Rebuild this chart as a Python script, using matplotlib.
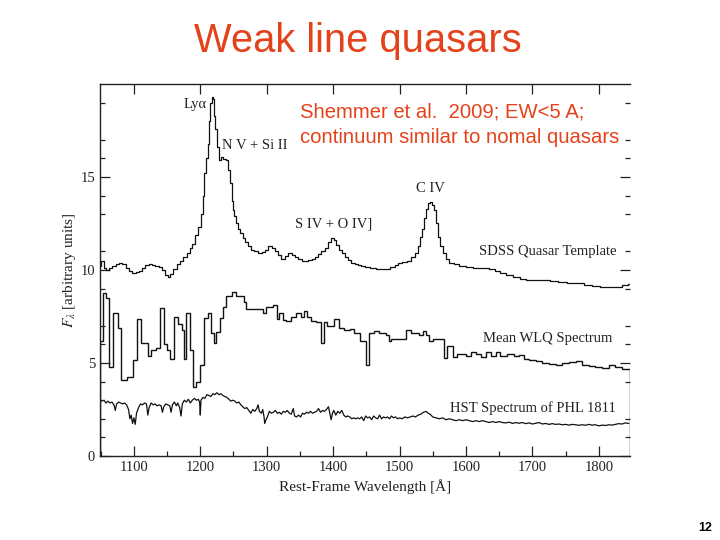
import matplotlib
matplotlib.use("Agg")
import matplotlib.pyplot as plt
from matplotlib.ticker import FixedLocator, MultipleLocator
import numpy as np

# ---- SDSS quasar template (wavelength, flux) ----
sdss_wave = [1049, 1053, 1056, 1060, 1065, 1070, 1075, 1080, 1085, 1090, 1095, 1100, 1105, 1110,
             1115, 1120, 1125, 1130, 1135, 1140, 1145, 1150, 1153, 1157, 1162, 1167, 1172, 1177,
             1182, 1186, 1190, 1195, 1199, 1203, 1205, 1207, 1210, 1212, 1214, 1216, 1218, 1220,
             1221, 1223, 1226, 1229, 1232, 1236, 1240, 1243, 1246, 1248, 1250, 1253, 1256, 1259,
             1262, 1266, 1270, 1275, 1279, 1284, 1290, 1295, 1300, 1305, 1310, 1315, 1320, 1324,
             1330, 1335, 1340, 1345, 1350, 1355, 1360, 1365, 1370, 1375, 1380, 1385, 1390, 1395,
             1399, 1403, 1407, 1411, 1415, 1420, 1425, 1430, 1435, 1440, 1445, 1450, 1460, 1470,
             1480, 1490, 1495, 1500, 1508, 1515, 1520, 1526, 1530, 1533, 1536, 1539, 1542, 1545,
             1548, 1551, 1554, 1557, 1560, 1563, 1567, 1572, 1578, 1585, 1595, 1605, 1616, 1628,
             1640, 1648, 1655, 1665, 1676, 1686, 1696, 1710, 1721, 1733, 1745, 1758, 1771, 1784,
             1796, 1808, 1820, 1830, 1841, 1847]
sdss_flux = [10.2, 10.5, 10.1, 10.0, 10.1, 10.2, 10.3, 10.4, 10.3, 10.1, 9.95, 9.85, 9.9, 9.95,
             10.1, 10.25, 10.3, 10.25, 10.2, 10.15, 10.0, 9.75, 9.6, 9.8, 10.05, 10.3, 10.5, 10.7,
             10.9, 11.2, 11.4, 11.9, 12.3, 13.0, 14.0, 15.2, 16.0, 16.8, 18.0, 19.0, 19.3, 19.2,
             18.3, 17.6, 16.6, 15.9, 16.05, 15.95, 15.9, 15.4, 14.7, 13.7, 13.2, 12.9, 12.5, 12.2,
             12.0, 11.7, 11.5, 11.3, 11.1, 11.0, 10.9, 10.95, 11.1, 11.3, 11.2, 11.0, 10.8, 10.6,
             10.75, 10.9, 10.8, 10.7, 10.6, 10.5, 10.5, 10.55, 10.6, 10.7, 10.85, 11.0, 11.2, 11.5,
             11.7, 11.6, 11.35, 11.1, 10.9, 10.7, 10.55, 10.4, 10.3, 10.25, 10.2, 10.15, 10.1, 10.05,
             10.05, 10.15, 10.25, 10.4, 10.45, 10.5, 10.7, 10.9, 11.3, 11.8, 12.2, 12.8, 13.3, 13.6,
             13.65, 13.5, 13.2, 12.5, 11.8, 11.3, 10.9, 10.6, 10.4, 10.3, 10.2, 10.15, 10.1, 10.1,
             10.05, 9.95, 9.85, 9.75, 9.6, 9.5, 9.45, 9.45, 9.45, 9.4, 9.35, 9.3, 9.3, 9.2,
             9.15, 9.1, 9.1, 9.1, 9.2, 9.25]

# ---- Mean WLQ spectrum (bin edges, binned flux) ----
wlq_edges = [1049, 1053, 1058, 1063, 1069, 1076, 1081, 1089, 1098, 1105, 1111, 1121, 1126, 1134,
             1140, 1145, 1150, 1154, 1161, 1167, 1172, 1175, 1179, 1184, 1189, 1194, 1199, 1205,
             1211, 1216, 1220, 1224, 1229, 1234, 1239, 1244, 1248, 1254, 1266, 1269, 1294, 1299,
             1309, 1316, 1319, 1324, 1329, 1336, 1344, 1351, 1356, 1361, 1366, 1374, 1381, 1386,
             1391, 1396, 1401, 1409, 1417, 1425, 1432, 1440, 1450, 1454, 1462, 1469, 1480, 1484,
             1487, 1510, 1517, 1530, 1535, 1540, 1545, 1550, 1567, 1572, 1580, 1587, 1600, 1607,
             1615, 1622, 1630, 1637, 1645, 1652, 1662, 1672, 1680, 1687, 1695, 1705, 1715, 1725,
             1735, 1745, 1755, 1765, 1775, 1785, 1795, 1805, 1815, 1825, 1835, 1847]
wlq_flux = [6.2, 8.75, 8.5, 4.8, 7.7, 6.9, 4.1, 4.25, 5.15, 7.35, 6.1, 5.4, 5.7,
            5.8, 7.95, 6.0, 5.7, 5.2, 7.5, 7.1, 6.8, 5.2, 7.7, 5.7, 3.7, 4.0, 4.9,
            7.4, 7.7, 6.6, 6.1, 6.65, 7.4, 8.0, 8.6, 8.6, 8.8, 8.6, 8.3, 7.9, 7.7,
            8.0, 8.1, 7.35, 7.7, 7.3, 7.25, 7.5, 7.7, 7.5, 7.8, 7.5, 7.25, 7.2, 6.1,
            7.2, 7.0, 7.0, 7.35, 6.9, 6.75, 6.85, 6.6, 6.2, 4.9, 6.6, 6.7, 6.6, 6.5,
            6.2, 6.3, 6.8, 6.6, 6.5, 6.7, 6.5, 6.2, 6.3, 5.25, 5.9, 5.3, 5.5, 5.4,
            5.6, 5.5, 5.3, 5.6, 5.4, 5.6, 5.4, 5.5, 5.35, 5.45, 5.2, 5.15, 5.1, 5.0,
            4.95, 4.9, 5.0, 5.05, 5.1, 4.9, 4.85, 4.8, 4.75, 4.9, 4.8, 4.7]

# ---- HST spectrum of PHL 1811 ----
hst_wave = [1049, 1052, 1055, 1058, 1061, 1064, 1067, 1070, 1072, 1074, 1077, 1080, 1083, 1086,
            1089, 1092, 1094, 1096, 1098, 1100, 1102, 1104, 1107, 1110, 1113, 1116, 1119, 1121,
            1123, 1126, 1129, 1132, 1135, 1138, 1141, 1143, 1145, 1148, 1151, 1154, 1156, 1158,
            1161, 1164, 1166, 1169, 1171, 1173, 1176, 1179, 1182, 1185, 1188, 1191, 1194, 1197,
            1199, 1200, 1201, 1204, 1207, 1210, 1213, 1216, 1219, 1222, 1225, 1228, 1231, 1234,
            1237, 1240, 1243, 1246, 1249, 1252, 1255, 1258, 1261, 1264, 1267, 1270, 1273, 1276,
            1279, 1282, 1285, 1287, 1289, 1292, 1294, 1296, 1297, 1299, 1301, 1304, 1307, 1310,
            1313, 1316, 1319, 1322, 1325, 1328, 1331, 1334, 1337, 1340, 1342, 1345, 1348, 1351,
            1354, 1357, 1360, 1363, 1366, 1369, 1372, 1375, 1378, 1381, 1384, 1387, 1390, 1393,
            1395, 1397, 1399, 1401, 1404, 1407, 1410, 1413, 1416, 1419, 1422, 1425, 1428, 1431,
            1434, 1437, 1440, 1443, 1446, 1449, 1452, 1455, 1458, 1461, 1464, 1467, 1470, 1473,
            1476, 1479, 1482, 1485, 1488, 1491, 1494, 1497, 1500, 1504, 1508, 1512, 1516, 1520,
            1524, 1528, 1532, 1536, 1540, 1543, 1546, 1550, 1555, 1560, 1565, 1570, 1575, 1580,
            1585, 1590, 1595, 1600, 1605, 1610, 1615, 1620, 1625, 1630, 1635, 1640, 1645, 1650,
            1655, 1660, 1665, 1670, 1675, 1680, 1685, 1690, 1695, 1700, 1705, 1710, 1715, 1720,
            1725, 1730, 1735, 1740, 1745, 1750, 1755, 1760, 1765, 1770, 1775, 1780, 1785, 1790,
            1795, 1800, 1805, 1810, 1815, 1820, 1825, 1830, 1835, 1840, 1845]
hst_flux = [3.05, 2.95, 3.0, 2.85, 2.95, 2.85, 2.9, 2.75, 2.45, 2.8, 2.9, 2.85, 2.8, 2.85,
            2.75, 2.5, 2.0, 2.2, 1.75, 2.05, 1.7, 2.3, 2.6, 2.8, 2.75, 2.85, 2.8, 2.2,
            2.6, 2.85, 2.75, 2.8, 2.7, 2.75, 2.7, 2.35, 2.65, 2.8, 2.75, 2.7, 2.35, 2.75,
            2.9, 2.7, 2.85, 2.6, 2.15, 2.8, 3.0, 2.9, 3.05, 2.85, 3.0, 3.1, 3.0, 3.05,
            2.9, 2.2, 3.0, 3.15, 3.1, 3.3, 3.25, 3.2, 3.35, 3.3, 3.4, 3.3, 3.35, 3.25,
            3.2, 3.15, 3.05, 2.95, 3.0, 2.95, 2.85, 2.9, 2.75, 2.65, 2.55, 2.6, 2.45, 2.3,
            2.5, 2.4, 2.55, 2.75, 2.4, 2.3, 2.5, 2.1, 1.75, 1.95, 2.1, 2.4, 2.3, 2.35,
            2.45, 2.3, 2.35, 2.25, 2.4, 2.35, 2.45, 2.3, 2.25, 2.55, 2.15, 2.1, 2.2, 2.1,
            2.3, 2.25, 2.35, 2.3, 2.4, 2.3, 2.35, 2.4, 2.55, 2.35, 2.45, 2.4, 2.5, 2.65,
            2.3, 1.95, 2.3, 2.45, 2.2, 2.4, 2.3, 2.45, 2.2, 2.1, 2.15, 2.1, 2.0, 2.05,
            2.0, 2.05, 2.0, 2.1, 1.9, 2.15, 2.05, 2.1, 1.95, 2.15, 2.05, 2.0, 2.2, 2.0,
            2.1, 2.05, 2.1, 2.0, 2.15, 2.05, 2.1, 2.0, 2.05, 2.0, 2.1, 2.05, 2.1, 2.15,
            2.1, 2.2, 2.25, 2.35, 2.4, 2.3, 2.25, 2.1, 2.05, 2.0, 2.05, 1.95, 2.0, 1.95,
            1.9, 1.95, 1.9, 1.95, 1.9, 1.85, 1.9, 1.85, 1.9, 1.85, 1.8, 1.85, 1.8, 1.85,
            1.8, 1.78, 1.82, 1.75, 1.8, 1.76, 1.8, 1.74, 1.78, 1.72, 1.76, 1.8, 1.72, 1.75,
            1.7, 1.74, 1.7, 1.72, 1.68, 1.7, 1.66, 1.7, 1.68, 1.65, 1.68, 1.65, 1.7, 1.66,
            1.68, 1.62, 1.66, 1.64, 1.68, 1.66, 1.7, 1.74, 1.72, 1.78, 1.75]

x_major = [1100, 1200, 1300, 1400, 1500, 1600, 1700, 1800]
y_major = [0, 5, 10, 15]
y_minor = [1, 2, 4, 6, 7, 9, 11, 13, 14, 16, 17, 19]

labels = [
    ("Ly\u03b1", 1193, 18.9, "center"),
    ("N V + Si II", 1232, 16.7, "left"),
    ("S IV + O IV]", 1342, 12.5, "left"),
    ("C IV", 1547, 14.4, "center"),
    ("SDSS Quasar Template", 1826, 11.0, "right"),
    ("Mean WLQ Spectrum", 1820, 6.3, "right"),
    ("HST Spectrum of PHL 1811", 1826, 2.6, "right"),
]

serif = ["Liberation Serif", "DejaVu Serif"]
sans = ["Liberation Sans", "DejaVu Sans"]
plt.rcParams["mathtext.fontset"] = "stix"

fig = plt.figure(figsize=(7.2, 5.4), dpi=100)
ax = fig.add_axes([100 / 720, 1 - 456 / 540, 530 / 720, 372 / 540])

ink = "#111111"
ax.step(sdss_wave, sdss_flux, where="mid", color=ink, lw=0.9)
ax.stairs(wlq_flux, wlq_edges, color=ink, lw=1.0)
ax.plot(hst_wave, hst_flux, color=ink, lw=0.9)

ax.set_xlim(1049, 1847)
ax.set_ylim(0, 20)

for txt, x, y, ha in labels:
    ax.text(x, y, txt, ha=ha, va="center", fontsize=10.5, family=serif, color="#222222")

ax.xaxis.set_major_locator(FixedLocator(x_major))
ax.xaxis.set_minor_locator(MultipleLocator(50))
ax.yaxis.set_major_locator(FixedLocator(y_major))
ax.yaxis.set_minor_locator(FixedLocator(y_minor))
ax.tick_params(which="both", direction="in", top=True, right=True, colors="#222222")
ax.tick_params(which="major", length=7, width=0.9, labelsize=10.5)
ax.tick_params(which="minor", length=3.5, width=0.9, top=False)
for lab in ax.get_xticklabels() + ax.get_yticklabels():
    lab.set_family(serif)
ax.spines["right"].set_visible(False)
for s in ("left", "top", "bottom"):
    ax.spines[s].set_linewidth(1.0)
    ax.spines[s].set_color("#222222")

ax.set_xlabel("Rest-Frame Wavelength [\u00c5]", family=serif, fontsize=11, color="#222222", labelpad=4)
ax.set_ylabel(r"$F_\lambda$ [arbitrary units]", family=serif, fontsize=11, color="#222222", labelpad=2)

red = "#E4421B"
fig.text(0.497, 1 - 52 / 540, "Weak line quasars", ha="center", va="baseline",
         fontsize=28.7, family=sans, color=red)
fig.text(300 / 720, 1 - 118 / 540, "Shemmer et al.  2009; EW<5 A;", ha="left", va="baseline",
         fontsize=14.6, family=sans, color=red)
fig.text(300 / 720, 1 - 143 / 540, "continuum similar to nomal quasars", ha="left", va="baseline",
         fontsize=14.6, family=sans, color=red)
fig.text(705 / 720, 1 - 528 / 540, "12", ha="center", va="center", fontsize=9,
         fontweight="bold", family=sans, color="black")

fig.savefig("out.png", dpi=100)
